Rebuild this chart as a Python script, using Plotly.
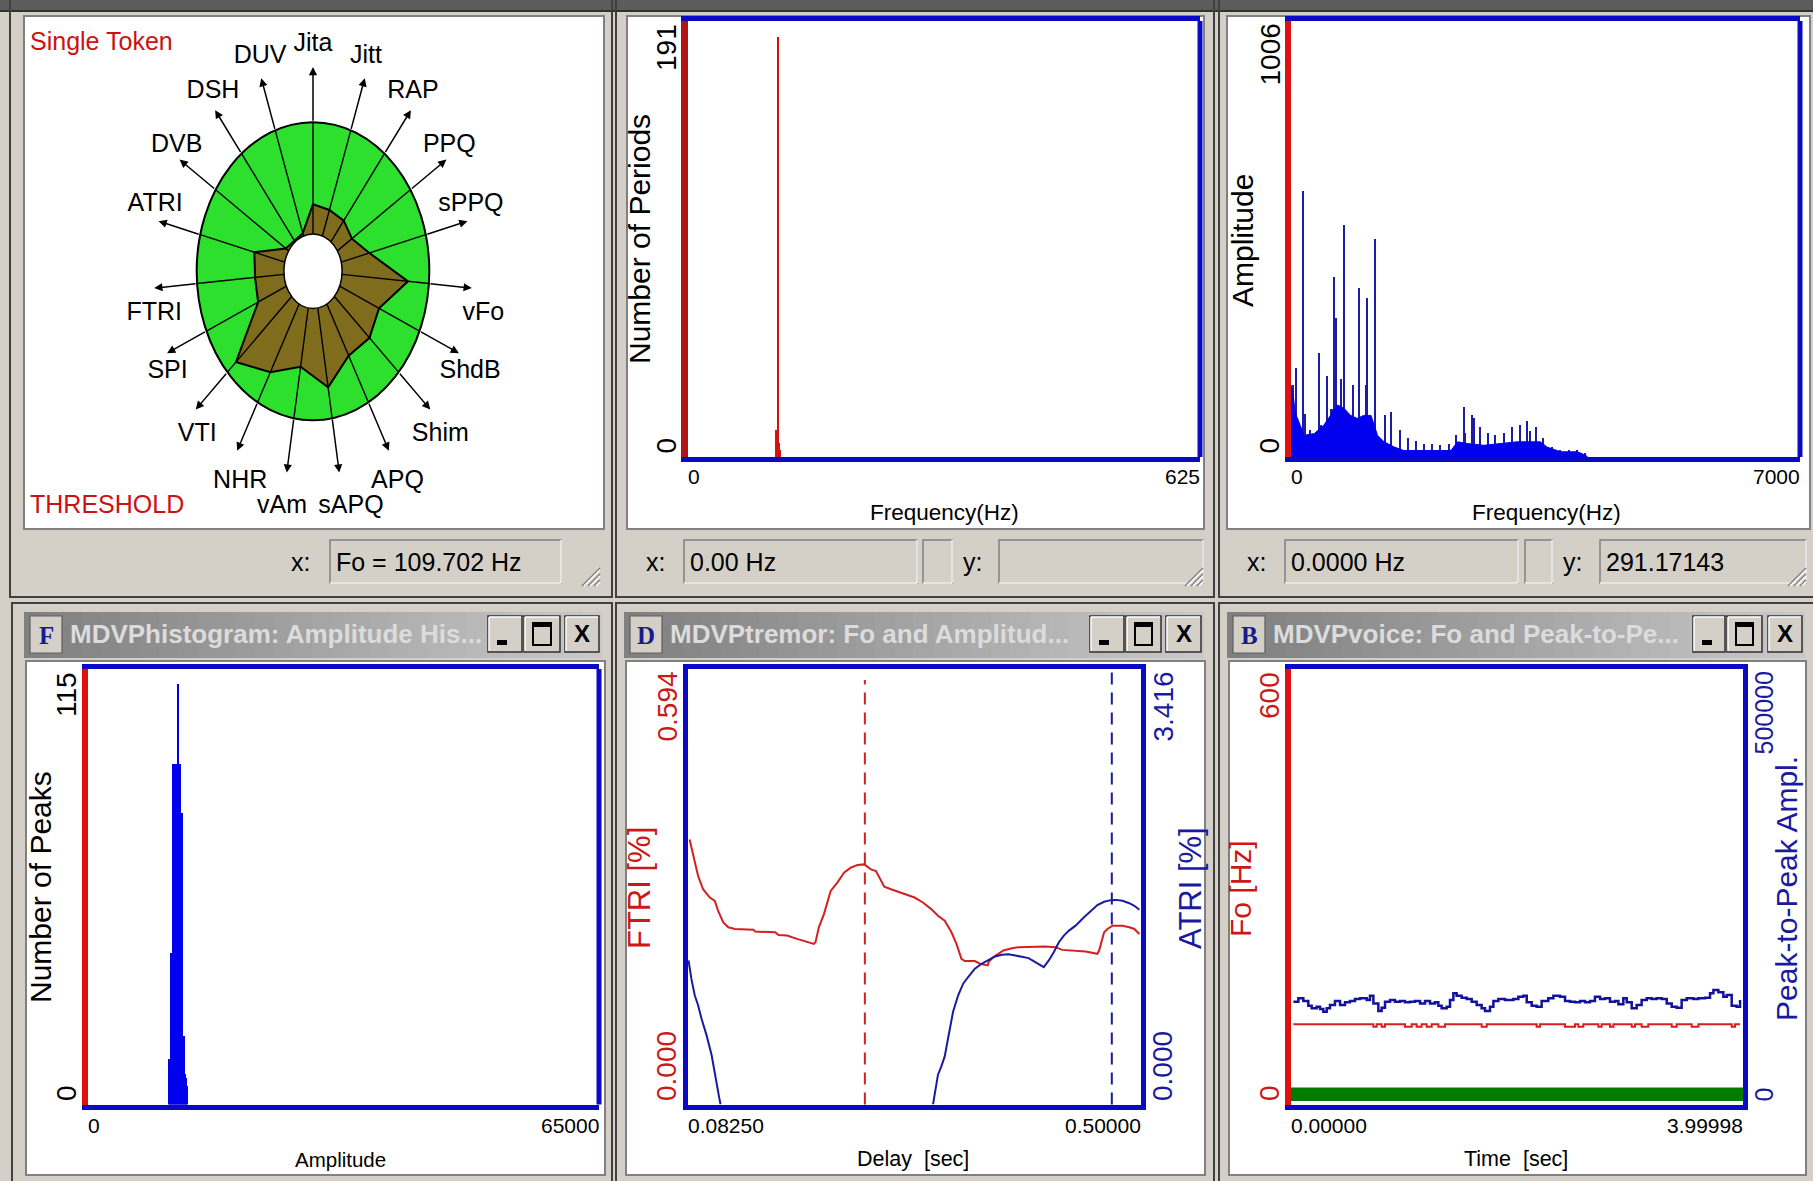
import math
import plotly.graph_objects as go

W, H = 1813, 1181
def X(px): return px / W
def Y(py): return 1 - py / H

# ---------------- data ----------------
radar_labels = ["Jita", "Jitt", "RAP", "PPQ", "sPPQ", "vFo", "ShdB", "Shim", "APQ", "sAPQ",
                "vAm", "NHR", "VTI", "SPI", "FTRI", "ATRI", "DVB", "DSH", "DUV"]
radar_values = [0.45, 0.435, 0.43, 0.40, 0.50, 0.82, 0.62, 0.66, 0.645, 0.79,
                0.65, 0.77, 0.90, 0.515, 0.50, 0.52, 0.28, 0.26, 0.27]
fo_readout = "Fo = 109.702 Hz"

period_freq_hz = [107.3, 108.5, 109.7, 110.9, 112.1]
period_count = [12, 12, 184, 6, 3]

spec_floor_hz = [0, 25, 60, 90, 180, 320, 450, 545, 640, 730, 820, 910, 1000, 1100, 1190, 1280,
                 1420, 1550, 2200, 2290, 2430, 2650, 3110, 3430, 3520, 3710, 3940, 4050, 4080]
spec_floor_amp = [166, 150, 100, 89, 50, 54, 73, 96, 120, 112, 96, 89, 96, 96, 50, 35,
                  23, 15, 15, 35, 31, 27, 35, 35, 23, 12, 12, 4, 0]
spec_peak_hz = [32, 73, 165, 192, 270, 385, 420, 500, 560, 600, 625, 690, 729, 855, 944, 1040,
                1049, 1164, 1292, 1380, 1508, 1609, 1728, 1829, 1943, 2058, 2172, 2273, 2378,
                2400, 2493, 2520, 2598, 2713, 2814, 2938, 3043, 3158, 3254, 3290, 3378, 3470,
                3593, 3708, 3823, 3938, 4043]
spec_peak_amp = [166, 206, 614, 100, 62, 239, 75, 187, 110, 416, 320, 181, 536, 167, 391, 166,
                 366, 503, 96, 103, 63, 44, 36, 30, 30, 27, 30, 50, 116,
                 55, 96, 89, 69, 55, 50, 55, 69, 75, 82, 60, 69, 44,
                 23, 17, 17, 17, 9]
spec_readout = ("0.0000 Hz", "291.17143")
period_readout = "0.00 Hz"

hist_amp = [10245, 10375, 10505, 10635, 10765, 10895, 11025, 11155, 11285, 11415,
            11545, 11675, 11805, 11935, 12065, 12195, 12325, 12455, 12585]
hist_count = [12, 12, 40, 40, 90, 90, 90, 90, 90, 111, 90, 90, 77, 77, 18, 18, 8, 7, 5]

ftri_delay = [0.0840, 0.0871, 0.0918, 0.0964, 0.1026, 0.1072, 0.1103, 0.1150, 0.1196, 0.1258,
              0.1428, 0.1444, 0.1629, 0.1660, 0.1737, 0.1830, 0.1923, 0.1985, 0.2000, 0.2031,
              0.2078, 0.2140, 0.2201, 0.2263, 0.2325, 0.2387, 0.2449, 0.2480, 0.2511, 0.2557,
              0.2603, 0.2634, 0.2696, 0.2789, 0.2913, 0.2990, 0.3067, 0.3129, 0.3191, 0.3253,
              0.3299, 0.3345, 0.3376, 0.3469, 0.3516, 0.3587, 0.3599, 0.3640, 0.3686, 0.3732,
              0.3810, 0.3872, 0.4119, 0.4212, 0.4274, 0.4490, 0.4598, 0.4614, 0.4660, 0.4691,
              0.4738, 0.4830, 0.4892, 0.4939, 0.4985]
ftri_pct = [0.3614, 0.3433, 0.3117, 0.2936, 0.2823, 0.2778, 0.2642, 0.2484, 0.2417, 0.2394,
            0.2385, 0.2358, 0.2349, 0.2313, 0.2304, 0.2259, 0.2222, 0.2191, 0.2213, 0.2417,
            0.2597, 0.2913, 0.3026, 0.3162, 0.3230, 0.3266, 0.3275, 0.3243, 0.3207, 0.3185,
            0.3049, 0.2972, 0.2936, 0.2891, 0.2823, 0.2755, 0.2665, 0.2575, 0.2507, 0.2349,
            0.2191, 0.1987, 0.1956, 0.1956, 0.1920, 0.1897, 0.1951, 0.2010, 0.2055, 0.2100,
            0.2132, 0.2146, 0.2155, 0.2146, 0.2109, 0.2087, 0.2055, 0.2100, 0.2349, 0.2394,
            0.2439, 0.2439, 0.2417, 0.2394, 0.2326]
atri_delay = [0.0830, 0.0856, 0.0887, 0.0918, 0.0949, 0.0995, 0.1042, 0.1072, 0.1088, 0.1113,
              0.1125, None, 0.3083, 0.3099, 0.3129, 0.3160, 0.3191, 0.3222, 0.3268, 0.3315,
              0.3361, 0.3407, 0.3469, 0.3531, 0.3593, 0.3655, 0.3717, 0.3779, 0.3841, 0.3903,
              0.3964, 0.4026, 0.4104, 0.4150, 0.4196, 0.4243, 0.4289, 0.4336, 0.4397, 0.4475,
              0.4537, 0.4598, 0.4660, 0.4722, 0.4769, 0.4830, 0.4892, 0.4939, 0.4985]
atri_pct = [1.130, 0.987, 0.857, 0.779, 0.675, 0.546, 0.390, 0.234, 0.156, 0.052,
            0.0, None, 0.0, 0.078, 0.234, 0.299, 0.377, 0.520, 0.727, 0.857,
            0.948, 1.000, 1.065, 1.104, 1.135, 1.161, 1.174, 1.179, 1.169, 1.156,
            1.148, 1.117, 1.078, 1.130, 1.195, 1.273, 1.325, 1.364, 1.403, 1.468,
            1.520, 1.564, 1.590, 1.603, 1.605, 1.598, 1.579, 1.559, 1.527]
ftri_peak_delay = 0.2455
atri_peak_delay = 0.4731

voice_t = [0.021, 0.065, 0.109, 0.153, 0.183, 0.227, 0.257, 0.286, 0.316, 0.345,
           0.389, 0.434, 0.478, 0.522, 0.566, 0.611, 0.670, 0.699, 0.729, 0.773,
           0.802, 0.832, 0.876, 0.920, 0.965, 1.009, 1.053, 1.097, 1.142, 1.186,
           1.230, 1.274, 1.304, 1.333, 1.378, 1.407, 1.437, 1.466, 1.510, 1.555,
           1.599, 1.643, 1.687, 1.717, 1.761, 1.791, 1.835, 1.894, 1.968, 2.012,
           2.056, 2.086, 2.130, 2.174, 2.218, 2.277, 2.322, 2.381, 2.425, 2.469,
           2.513, 2.558, 2.602, 2.646, 2.690, 2.735, 2.779, 2.823, 2.867, 2.897,
           2.941, 2.971, 3.015, 3.059, 3.103, 3.148, 3.192, 3.236, 3.280, 3.325,
           3.369, 3.413, 3.457, 3.502, 3.561, 3.605, 3.664, 3.708, 3.738, 3.782,
           3.826, 3.856, 3.900, 3.944, 3.974]
voice_p2p = [118000, 121900, 118800, 113500, 110400, 112300, 109600, 106600, 110400, 114200,
             118800, 114200, 117300, 118800, 121100, 121900, 120000, 124900, 116100, 107300,
             111200, 118000, 120000, 118000, 118800, 117300, 118000, 118800, 116100, 118800,
             116100, 117300, 113500, 110400, 112300, 120000, 127600, 124900, 122600, 121100,
             118000, 114200, 110400, 107300, 112300, 118800, 121100, 120000, 121100, 123800,
             124900, 117300, 113500, 112300, 118800, 121900, 124900, 123800, 118800, 118000,
             117300, 118800, 117300, 118800, 123800, 121100, 121900, 118000, 118800, 115000,
             121900, 117300, 110400, 114200, 120000, 121900, 121100, 121900, 121100, 116100,
             112300, 111200, 120000, 121900, 121100, 121900, 122600, 127600, 131400, 128800,
             123800, 125700, 113500, 112300, 120000]
fo_t = [0.021, 0.729, 0.758, 0.802, 0.832, 1.009, 1.068, 1.112, 1.156, 1.201, 1.245, 1.304,
        1.363, 1.687, 1.732, 2.174, 2.204, 2.425, 2.513, 2.543, 2.587, 2.720, 2.749, 2.823,
        2.853, 3.015, 3.044, 3.103, 3.162, 3.369, 3.413, 3.546, 3.605, 3.900, 3.929, 3.974]
fo_hz = [110.5, 107.0, 110.5, 107.0, 110.5, 107.0, 110.5, 107.0, 110.5, 107.0, 110.5, 107.0,
         110.5, 107.0, 110.5, 107.0, 110.5, 107.0, 110.5, 107.0, 110.5, 107.0, 110.5, 107.0,
         110.5, 107.0, 110.5, 107.0, 110.5, 107.0, 110.5, 107.0, 110.5, 107.0, 110.5, 110.5]
voiced_segments = [(0.0, 3.99998)]

# ---------------- styling ----------------
GRAY = "#d4d0c8"
BLUE = "#0a0ac4"
RED = "#e01010"
DRED = "#b01414"
SANS = "Liberation Sans, Arial, sans-serif"
SERIF = "Liberation Serif, DejaVu Serif, serif"
TICK = 21        # horizontal tick labels
ATITLE = 22.5    # horizontal axis titles

shapes, anns = [], []

def rect(x0, y0, x1, y1, fill=None, line=None, lw=1.0, layer="below"):
    shapes.append(dict(type="rect", xref="paper", yref="paper", x0=X(x0), x1=X(x1), y0=Y(y1), y1=Y(y0),
                       fillcolor=fill if fill else "rgba(0,0,0,0)",
                       line=dict(color=line if line else "rgba(0,0,0,0)", width=lw if line else 0),
                       layer=layer))

def seg(x0, y0, x1, y1, color, lw=1.0, layer="below"):
    shapes.append(dict(type="line", xref="paper", yref="paper", x0=X(x0), x1=X(x1), y0=Y(y0), y1=Y(y1),
                       line=dict(color=color, width=lw), layer=layer))

def txt(text, x, y, size=25, color="black", xa="center", ya="middle", angle=0, family=SANS):
    anns.append(dict(text=text, x=X(x), y=Y(y), xref="paper", yref="paper", showarrow=False,
                     xanchor=xa, yanchor=ya, textangle=angle,
                     font=dict(size=size, color=color, family=family)))

# ---- window chrome ----
rect(0, 0, W, 10, fill="#5c5c5c")
seg(0, 11, W, 11, "#303030", 2)
for (wx0, wx1) in [(10, 612), (616, 1214), (1219, 1830)]:
    rect(wx0, -5, wx1, 597, line="#404040", lw=2)
for (wx0, wx1) in [(12, 612), (616, 1214), (1219, 1830)]:
    rect(wx0, 603, wx1, 1200, line="#404040", lw=2)
for (cx0, cx1) in [(24, 604), (627, 1204), (1227, 1810)]:
    rect(cx0, 16, cx1, 529, fill="white", line="#808080", lw=2)
for (cx0, cx1) in [(26, 605), (626, 1205), (1229, 1806)]:
    rect(cx0, 661, cx1, 1175, fill="white", line="#808080", lw=2)

def statusbox(x0, x1, text=None):
    rect(x0, 540, x1, 583, fill=GRAY, line="#808080", lw=1.5)
    seg(x0, 583, x1, 583, "white", 1.5)
    seg(x1, 540, x1, 583, "white", 1.5)
    if text:
        txt(text, x0 + 4, 562, size=25, xa="left")

def grip(xr):
    for k in range(3):
        d = 6 + k * 6
        seg(xr - d, 586, xr, 586 - d, "#808080", 1.6)
        seg(xr - d + 2, 586, xr, 588 - d, "white", 1.2)

txt("x:", 300, 562)
statusbox(330, 561, fo_readout)
grip(600)
txt("x:", 655, 562)
statusbox(684, 917, period_readout)
statusbox(923, 952)
txt("y:", 972, 562)
statusbox(999, 1203)
grip(1203)
txt("x:", 1256, 562)
statusbox(1285, 1518, spec_readout[0])
statusbox(1525, 1552)
txt("y:", 1572, 562)
statusbox(1600, 1806, spec_readout[1])
grip(1806)

def titlebar(x0, x1, letter, title, buttons):
    n = 30
    step = (x1 - x0) / n
    for i in range(n):
        v = int(128 + (200 - 128) * i / (n - 1))
        c = "#%02x%02x%02x" % (v, v, v)
        rect(x0 + i * step, 612, x0 + (i + 1) * step + 0.8, 658, fill=c)
    rect(x0 + 6, 616, x0 + 38, 653, fill=GRAY, line="#606060", lw=1.2)
    txt("<b>" + letter + "</b>", x0 + 22, 635, size=25, color="#1a1a8c", family=SERIF)
    txt("<b>" + title + "</b>", x0 + 44, 634, size=26, color="#dcdcdc", xa="left")
    for j, (bx0, bx1) in enumerate(buttons):
        rect(bx0, 616, bx1, 652, fill=GRAY, line="#303030", lw=1.5)
        seg(bx0 + 1, 617, bx1 - 1, 617, "white", 1.5)
        seg(bx0 + 1, 617, bx0 + 1, 651, "white", 1.5)
        if j == 0:
            rect(bx0 + 9, 640, bx0 + 19, 645, fill="black")
        elif j == 1:
            rect(bx0 + 9, 623, bx1 - 9, 645, line="black", lw=2)
            rect(bx0 + 9, 623, bx1 - 9, 627, fill="black")
        else:
            txt("<b>X</b>", (bx0 + bx1) / 2, 634, size=24)

titlebar(24, 601, "F", "MDVPhistogram: Amplitude His...", [(488, 522), (524, 560), (565, 599)])
titlebar(624, 1203, "D", "MDVPtremor: Fo and Amplitud...", [(1090, 1124), (1126, 1161), (1166, 1201)])
titlebar(1227, 1804, "B", "MDVPvoice: Fo and Peak-to-Pe...", [(1693, 1725), (1727, 1762), (1768, 1802)])

# ---------------- figure ----------------
fig = go.Figure()

# ---- radar (top-left) ----
N = len(radar_labels)
theta = [2 * math.pi * i / N for i in range(N)]
HOLE = 0.25
px_ = [v * math.sin(t) for v, t in zip(radar_values, theta)]
py_ = [v * math.cos(t) for v, t in zip(radar_values, theta)]
shapes.append(dict(type="circle", xref="x", yref="y", x0=-1, x1=1, y0=-1, y1=1,
                   fillcolor="#2ee02e", line=dict(color="black", width=2), layer="below"))
fig.add_trace(go.Scatter(x=px_ + [px_[0]], y=py_ + [py_[0]], mode="lines", fill="toself",
                         fillcolor="#7f6c1d", line=dict(color="black", width=2),
                         xaxis="x", yaxis="y", hoverinfo="skip"))
sx, sy = [], []
for t in theta:
    sx += [HOLE * math.sin(t), 1.0 * math.sin(t), None]
    sy += [HOLE * math.cos(t), 1.0 * math.cos(t), None]
fig.add_trace(go.Scatter(x=sx, y=sy, mode="lines", line=dict(color="black", width=1.4),
                         xaxis="x", yaxis="y", hoverinfo="skip"))
shapes.append(dict(type="circle", xref="x", yref="y", x0=-HOLE, x1=HOLE, y0=-HOLE, y1=HOLE,
                   fillcolor="white", line=dict(color="black", width=1.5), layer="above"))
for t in theta:
    anns.append(dict(x=1.37 * math.sin(t), y=1.37 * math.cos(t), ax=1.0 * math.sin(t), ay=1.0 * math.cos(t),
                     xref="x", yref="y", axref="x", ayref="y", text="", showarrow=True,
                     arrowhead=2, arrowsize=1.1, arrowwidth=1.5, arrowcolor="black", standoff=0))
lx, ly = [], []
for t in theta:
    s, c = math.sin(t), math.cos(t)
    if c >= 0:
        xx = 1.40 * s
        yy = 1.5 * c + 0.02 + (0.06 if 0.15 < c < 0.35 else 0.0)
    else:
        xx = (1.8 * s + 0.03) if abs(s) < 0.2 else (1.42 * s + 0.05)
        yy = 1.55 * c - 0.05 - (0.11 if c > -0.15 else 0.0)
    lx.append(xx)
    ly.append(yy)
fig.add_trace(go.Scatter(x=lx, y=ly, mode="text", text=radar_labels,
                         textfont=dict(family=SANS, size=25, color="black"),
                         xaxis="x", yaxis="y", hoverinfo="skip"))
txt("Single Token", 28, 41, size=25, color="#cc1111", xa="left")
txt("THRESHOLD", 28, 504, size=25, color="#cc1111", xa="left")

# ---- periods histogram (top-middle) ----
fig.add_trace(go.Bar(x=period_freq_hz, y=period_count, width=1.5, marker=dict(color="#d41010", line=dict(width=0)),
                     xaxis="x2", yaxis="y2", hoverinfo="skip"))
# ---- spectrum (top-right) ----
fig.add_trace(go.Bar(x=spec_peak_hz, y=spec_peak_amp, width=22, marker=dict(color="#1c1ca8", line=dict(width=0)),
                     xaxis="x3", yaxis="y3", hoverinfo="skip"))
fig.add_trace(go.Scatter(x=spec_floor_hz, y=spec_floor_amp, mode="lines", fill="tozeroy",
                         fillcolor="#0000ee", line=dict(color="#0000ee", width=1),
                         xaxis="x3", yaxis="y3", hoverinfo="skip"))
# ---- amplitude histogram (bottom-left) ----
fig.add_trace(go.Bar(x=hist_amp, y=hist_count, width=130, marker=dict(color="#0000ee", line=dict(width=0)),
                     xaxis="x4", yaxis="y4", hoverinfo="skip"))
# ---- tremor (bottom-middle) ----
fig.add_trace(go.Scatter(x=ftri_delay, y=ftri_pct, mode="lines", line=dict(color="#d42020", width=2),
                         xaxis="x5", yaxis="y5", hoverinfo="skip"))
fig.add_trace(go.Scatter(x=atri_delay, y=atri_pct, mode="lines", line=dict(color="#1a1aa0", width=2),
                         connectgaps=False, xaxis="x5", yaxis="y7", hoverinfo="skip"))
shapes.append(dict(type="line", xref="x5", yref="y5 domain", x0=ftri_peak_delay, x1=ftri_peak_delay,
                   y0=0, y1=0.975, line=dict(color="#d42020", width=2, dash="12px,8px"), layer="above"))
shapes.append(dict(type="line", xref="x5", yref="y5 domain", x0=atri_peak_delay, x1=atri_peak_delay,
                   y0=0, y1=1, line=dict(color="#1a1aa0", width=2, dash="12px,8px"), layer="above"))
# ---- voice (bottom-right) ----
for (v0, v1) in voiced_segments:
    shapes.append(dict(type="rect", xref="x6", yref="y6 domain", x0=v0, x1=v1, y0=0.008, y1=0.039,
                       fillcolor="#007a00", line=dict(width=0), layer="above"))
fig.add_trace(go.Scatter(x=fo_t, y=fo_hz, mode="lines", line=dict(color="#d42020", width=2, shape="hv"),
                         xaxis="x6", yaxis="y6", hoverinfo="skip"))
fig.add_trace(go.Scatter(x=voice_t, y=voice_p2p, mode="lines", line=dict(color="#12129a", width=2.5, shape="hv"),
                         xaxis="x6", yaxis="y8", hoverinfo="skip"))

# ---- axes ----
def xax(dom, rng, anchor):
    return dict(domain=dom, range=rng, anchor=anchor, showgrid=False, zeroline=False, showticklabels=False,
                ticks="", showline=True, linecolor=BLUE, linewidth=5, mirror=True, fixedrange=True)

def yax(dom, rng, anchor, color, lw=5):
    return dict(domain=dom, range=rng, anchor=anchor, showgrid=False, zeroline=False, showticklabels=False,
                ticks="", showline=True, linecolor=color, linewidth=lw, mirror=False, fixedrange=True)

TOPY = [Y(457), Y(21)]
BOTY = [Y(1104.5), Y(669)]
layout_axes = dict(
    xaxis=dict(domain=[X(92), X(534)], range=[-1.9, 1.9], visible=False, fixedrange=True, anchor="y"),
    yaxis=dict(domain=[Y(532), Y(10.5)], range=[-1.75, 1.75], visible=False, fixedrange=True, anchor="x"),
    xaxis2=xax([X(688), X(1200)], [0, 625], "y2"),
    yaxis2=yax(TOPY, [0, 191], "x2", DRED, 7),
    xaxis3=xax([X(1291), X(1800)], [0, 7000], "y3"),
    yaxis3=yax(TOPY, [0, 1006], "x3", RED, 6),
    xaxis4=xax([X(88), X(599)], [0, 65000], "y4"),
    yaxis4=yax(BOTY, [0, 115], "x4", RED, 6),
    xaxis5=xax([X(688), X(1141)], [0.0825, 0.5], "y5"),
    yaxis5=yax(BOTY, [0, 0.594], "x5", BLUE, 5),
    yaxis7=dict(overlaying="y5", anchor="x5", side="right", range=[0, 3.416], showgrid=False, zeroline=False,
                showticklabels=False, ticks="", showline=True, linecolor=BLUE, linewidth=5, fixedrange=True),
    xaxis6=xax([X(1291), X(1743)], [0, 3.99998], "y6"),
    yaxis6=yax(BOTY, [0, 600], "x6", RED, 6),
    yaxis8=dict(overlaying="y6", anchor="x6", side="right", range=[0, 500000], showgrid=False, zeroline=False,
                showticklabels=False, ticks="", showline=True, linecolor=BLUE, linewidth=5, fixedrange=True),
)
for k in ["2", "3", "4"]:
    shapes.append(dict(type="line", xref="x%s domain" % k, yref="y%s domain" % k, x0=1, x1=1, y0=0, y1=1,
                       line=dict(color=BLUE, width=5), layer="above"))

# ---- axis labels (end labels, as in the original) ----
def ylab_left(xaxis_px, top_px, bot_px, top_text, bot_text, color="black", size=28):
    txt(top_text, xaxis_px - 4, top_px + 1, size=size, color=color, xa="right", ya="top", angle=-90)
    txt(bot_text, xaxis_px - 4, bot_px - 1, size=size, color=color, xa="right", ya="bottom", angle=-90)

def ylab_right(xaxis_px, top_px, bot_px, top_text, bot_text, color, size=28):
    txt(top_text, xaxis_px + 4, top_px + 1, size=size, color=color, xa="left", ya="top", angle=-90)
    txt(bot_text, xaxis_px + 4, bot_px - 1, size=size, color=color, xa="left", ya="bottom", angle=-90)

def xlabels(left_px, right_px, y_px, ltext, rtext):
    txt(ltext, left_px - 2, y_px, size=TICK, xa="left")
    txt(rtext, right_px + 2, y_px, size=TICK, xa="right")

# periods
ylab_left(688, 21, 457, "191", "0")
txt("Number of Periods", 639, 239, size=30, angle=-90)
xlabels(688, 1200, 476, "0", "625")
txt("Frequency(Hz)", 945, 512, size=ATITLE)
# spectrum
ylab_left(1291, 21, 457, "1006", "0")
txt("Amplitude", 1243, 241, size=30, angle=-90)
xlabels(1291, 1800, 476, "0", "7000")
txt("Frequency(Hz)", 1546, 512, size=ATITLE)
# amplitude histogram
ylab_left(88, 669, 1104.5, "115", "0")
txt("Number of Peaks", 40, 887, size=30, angle=-90)
xlabels(88, 599, 1125, "0", "65000")
txt("Amplitude", 340, 1159, size=20.5)
# tremor
ylab_left(688, 669, 1104.5, "0.594", "0.000", color="#cc1818")
txt("FTRI [%]", 639, 888, size=31, color="#cc1818", angle=-90)
ylab_right(1141, 669, 1104.5, "3.416", "0.000", "#1a1aa0")
txt("ATRI [%]", 1190, 888, size=31, color="#1a1aa0", angle=-90)
xlabels(688, 1141, 1125, "0.08250", "0.50000")
txt("Delay  [sec]", 913, 1159, size=21.5)
# voice
ylab_left(1291, 669, 1104.5, "600", "0", color="#cc1818")
txt("Fo [Hz]", 1241, 889, size=30, color="#cc1818", angle=-90)
ylab_right(1743, 669, 1104.5, "500000", "0", "#1a1aa0", size=25)
txt("Peak-to-Peak Ampl.", 1787, 889, size=30, color="#1a1aa0", angle=-90)
xlabels(1291, 1743, 1125, "0.00000", "3.99998")
txt("Time  [sec]", 1516, 1159, size=21.5)

fig.update_layout(
    width=W, height=H, autosize=False,
    margin=dict(l=0, r=0, t=0, b=0, pad=0),
    paper_bgcolor=GRAY, plot_bgcolor="rgba(0,0,0,0)",
    showlegend=False, bargap=0, hovermode=False,
    shapes=shapes, annotations=anns,
    **layout_axes,
)

fig.write_html("out.html", include_plotlyjs=True, config={"displayModeBar": False},
               post_script="document.body.style.margin='0';document.body.style.overflow='hidden';")
